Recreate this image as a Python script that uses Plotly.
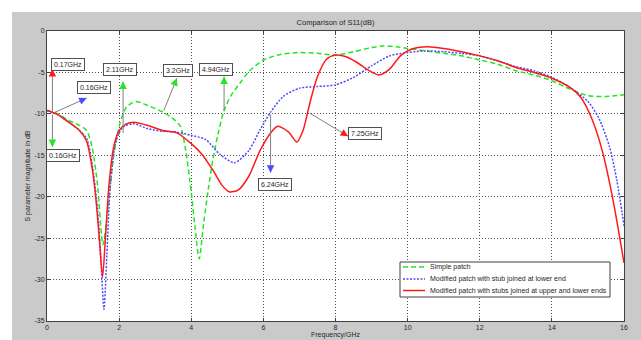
import plotly.graph_objects as go

# ---------------- data ----------------
series_names = [
    "Simple patch",
    "Modified patch with stub joined at lower end",
    "Modified patch with stubs joined at upper and lower ends",
]

freq_simple = [0, 0.3, 0.6, 0.9, 1.1, 1.25, 1.4, 1.55, 1.7, 1.85, 2.02, 2.2, 2.45, 2.8, 3.22,
               3.5, 3.7, 3.85, 4.0, 4.1, 4.22, 4.35, 4.47, 4.6, 4.75, 4.9, 5.1, 5.35, 5.6, 6.0,
               6.5, 7.0, 7.5, 8.0, 8.5, 9.0, 9.3, 9.7, 10.0, 10.5, 11.0, 11.5, 12.0, 12.5, 13.0,
               13.5, 14.0, 14.5, 15.0, 15.5, 16.0]
s11_simple = [-9.6, -10.0, -10.8, -11.4, -12.0, -14.0, -18.5, -25.8, -21.0, -15.0, -11.2, -9.2, -8.5, -9.0, -9.8,
              -10.6, -11.5, -14.5, -19.5, -23.5, -27.5, -23.0, -19.2, -15.5, -12.3, -9.7, -7.8, -6.3, -4.9, -3.5,
              -2.8, -2.6, -2.7, -2.9, -2.5, -2.0, -1.8, -1.9, -2.1, -2.4, -2.7, -3.0, -3.5, -4.0, -4.8,
              -5.3, -6.0, -7.0, -7.8, -7.9, -7.7]

freq_lower = [0, 0.3, 0.6, 0.9, 1.1, 1.25, 1.4, 1.5, 1.58, 1.66, 1.75, 1.9, 2.1, 2.4, 2.8,
              3.2, 3.6, 4.0, 4.4, 4.8, 5.2, 5.6, 5.9, 6.2, 6.55, 7.0, 7.5, 8.0, 8.5, 9.0,
              9.5, 10.0, 10.5, 11.0, 11.5, 12.0, 12.5, 13.0, 13.5, 14.0, 14.5, 15.0, 15.3, 15.6,
              15.8, 16.0]
s11_lower = [-9.6, -10.1, -11.0, -12.0, -13.0, -16.0, -21.5, -28.0, -33.6, -27.0, -19.0, -13.5, -11.6, -11.2, -11.8,
             -12.1, -12.2, -12.6, -13.1, -14.9, -15.9, -14.4, -12.0, -9.8, -7.9, -6.9, -6.7, -6.5, -5.6, -4.2,
             -3.0, -2.6, -2.4, -2.5, -2.7, -3.0, -3.6, -4.3, -4.8, -5.6, -6.8, -8.5, -10.5, -14.0,
             -18.0, -23.5]

freq_both = [0, 0.3, 0.6, 0.9, 1.1, 1.25, 1.35, 1.45, 1.54, 1.62, 1.72, 1.85, 2.0, 2.2, 2.4,
             2.8, 3.2, 3.6, 4.0, 4.3, 4.6, 4.85, 5.05, 5.3, 5.6, 5.9, 6.2, 6.4, 6.7, 6.93,
             7.1, 7.3, 7.5, 7.75, 8.0, 8.3, 8.6, 8.9, 9.2, 9.5, 9.8, 10.1, 10.55, 11.0, 11.5,
             12.0, 12.5, 13.0, 13.5, 14.0, 14.5, 14.8, 15.1, 15.4, 15.7, 16.0]
s11_both = [-9.6, -10.1, -11.0, -12.0, -13.3, -16.5, -20.0, -25.0, -29.7, -25.0, -18.5, -14.0, -12.0, -11.2, -11.0,
            -11.4, -12.0, -12.3, -13.6, -14.9, -16.8, -18.6, -19.4, -19.2, -17.5, -14.5, -12.3, -11.5, -12.2, -13.4,
            -12.0, -8.5, -5.5, -3.4, -2.9, -3.1, -3.8, -4.7, -5.3, -4.6, -3.0, -2.2, -1.9, -2.1, -2.5,
            -3.0, -3.6, -4.4, -5.0, -5.7, -6.8, -8.0, -10.5, -14.5, -20.5, -28.0]

x_tick_vals = [0, 2, 4, 6, 8, 10, 12, 14, 16]
x_tick_text = ["0", "2", "4", "6", "8", "10", "12", "14", "16"]
y_tick_vals = [0, -5, -10, -15, -20, -25, -30, -35]
y_tick_text = ["0", "-5", "-10", "-15", "-20", "-25", "-30", "-35"]

marker_labels = ["0.17GHz", "0.16GHz", "0.16GHz", "2.11GHz", "3.2GHz", "4.94GHz", "6.24GHz", "7.25GHz"]

# ---------------- styling / layout ----------------
W, H = 641, 340
ML, MR, MT, MB = 47, 17, 31, 19
PW, PH = W - ML - MR, H - MT - MB
X_RANGE = [0, 16]
Y_RANGE = [-35, 0]
FONT = "Liberation Sans, Arial, sans-serif"
TXT = "#262626"

colors = ["#22e622", "#4b4bff", "#ff1a1a"]
dashes = ["5px,3px", "2px,1.5px", "solid"]

fig = go.Figure()
for name, fx, fy, c, d in zip(series_names,
                              [freq_simple, freq_lower, freq_both],
                              [s11_simple, s11_lower, s11_both],
                              colors, dashes):
    fig.add_trace(go.Scatter(x=fx, y=fy, mode="lines", name=name, showlegend=False,
                             line=dict(color=c, width=1.5, dash=d, shape="spline", smoothing=0.7)))

# label boxes (data coords) and arrows (tail -> head, data coords)
label_pos = [(0.58, -4.1), (1.30, -6.8), (0.45, -15.0), (2.02, -4.6),
             (3.63, -4.8), (4.69, -4.6), (6.31, -18.5), (8.82, -12.4)]
arrows = [
    (0.15, -9.9, 0.15, -4.6, colors[2]),
    (0.15, -9.9, 0.15, -14.0, colors[0]),
    (0.17, -9.9, 1.10, -8.1, colors[1]),
    (2.11, -12.5, 2.11, -6.1, colors[0]),
    (3.22, -9.8, 3.60, -5.7, colors[0]),
    (4.91, -9.8, 4.91, -5.5, colors[0]),
    (6.20, -9.9, 6.20, -17.1, colors[1]),
    (7.24, -9.8, 8.35, -12.7, colors[2]),
]

px_x = PW / (X_RANGE[1] - X_RANGE[0])
px_y = PH / (Y_RANGE[1] - Y_RANGE[0])

annotations = []
for tx, ty, hx, hy, c in arrows:
    annotations.append(dict(x=hx, y=hy, ax=tx, ay=ty, xref="x", yref="y", axref="x", ayref="y",
                            text="", showarrow=True, arrowhead=0, arrowwidth=1, arrowcolor="#808080"))
    dxp = (tx - hx) * px_x
    dyp = -(ty - hy) * px_y
    L = (dxp ** 2 + dyp ** 2) ** 0.5
    k = 7.0 / L
    annotations.append(dict(x=hx, y=hy, ax=dxp * k, ay=dyp * k, xref="x", yref="y",
                            text="", showarrow=True, arrowhead=2, arrowsize=1.0,
                            arrowwidth=1.5, arrowcolor=c, standoff=0))

for (lx, ly), t in zip(label_pos, marker_labels):
    annotations.append(dict(x=lx, y=ly, xref="x", yref="y", text=t, showarrow=False,
                            font=dict(family=FONT, size=7, color=TXT),
                            bgcolor="white", bordercolor="#505050", borderwidth=1, borderpad=2))


def pxx(p):
    return (p - ML) / PW


def pxy(p):
    return (H - MB - p) / PH


# manual compact legend (MATLAB style)
leg_x0, leg_x1, leg_y0, leg_y1 = 400, 610, 262, 297
row_y = [267, 279, 290.5]
shapes = [
    dict(type="rect", xref="paper", yref="paper", layer="below",
         x0=-0.2, x1=1.2, y0=pxy(12), y1=1.3, fillcolor="white", line=dict(width=0)),
    dict(type="rect", xref="paper", yref="paper", layer="below",
         x0=-0.2, x1=pxx(12), y0=-0.2, y1=1.3, fillcolor="white", line=dict(width=0)),
    dict(type="rect", xref="paper", yref="paper", layer="above",
         x0=pxx(leg_x0), x1=pxx(leg_x1), y0=pxy(leg_y1), y1=pxy(leg_y0),
         fillcolor="white", line=dict(color="#404040", width=1)),
]
for ry, c, d, name in zip(row_y, colors, dashes, series_names):
    shapes.append(dict(type="line", xref="paper", yref="paper", layer="above",
                       x0=pxx(403), x1=pxx(425), y0=pxy(ry), y1=pxy(ry),
                       line=dict(color=c, width=1.5, dash=d)))
    annotations.append(dict(x=pxx(428), y=pxy(ry), xref="paper", yref="paper", text=name,
                            showarrow=False, xanchor="left", yanchor="middle",
                            font=dict(family=FONT, size=7, color=TXT)))

axis_common = dict(showline=True, linecolor="#404040", linewidth=1, mirror="ticks",
                   ticks="inside", ticklen=3, tickcolor="#404040", automargin=False,
                   showgrid=True, gridcolor="#505050", gridwidth=1, griddash="1px,2px",
                   zeroline=False, tickfont=dict(family=FONT, size=7, color=TXT))

fig.update_layout(
    width=W, height=H,
    margin=dict(l=ML, r=MR, t=MT, b=MB, pad=0, autoexpand=False),
    paper_bgcolor="#cacaca", plot_bgcolor="white",
    title=dict(text="Comparison of S11(dB)", x=(ML + PW / 2) / W, xanchor="center",
               y=1 - 22 / H, yanchor="middle", font=dict(family=FONT, size=7.5, color=TXT)),
    xaxis=dict(range=X_RANGE, tickvals=x_tick_vals, ticktext=x_tick_text,
               title=dict(text="Frequency/GHz", font=dict(family=FONT, size=7, color=TXT), standoff=1),
               **axis_common),
    yaxis=dict(range=Y_RANGE, tickvals=y_tick_vals, ticktext=y_tick_text,
               title=dict(text="S parameter magnitude in dB", font=dict(family=FONT, size=7, color=TXT), standoff=3),
               **axis_common),
    shapes=shapes,
    annotations=annotations,
    showlegend=False,
)

fig.write_html("out.html", config={"displayModeBar": False},
               post_script="document.body.style.margin='0';")
